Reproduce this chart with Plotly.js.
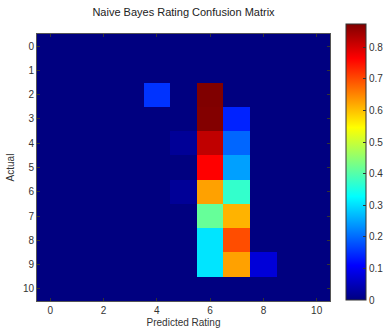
<!DOCTYPE html>
<html><head><meta charset="utf-8">
<script src="https://cdn.plot.ly/plotly-3.0.1.min.js"></script>
<style>body{margin:0;background:#fff}#c{width:386px;height:335px}</style>
</head><body><div id="c"></div>
<script>
const predicted = [0,1,2,3,4,5,6,7,8,9,10];
const actual = [0,1,2,3,4,5,6,7,8,9,10];
const xTicks = [0,2,4,6,8,10];
const yTicks = [0,1,2,3,4,5,6,7,8,9,10];
const cbTicks = [0,0.1,0.2,0.3,0.4,0.5,0.6,0.7,0.8];
const rates = [
  [0,0,0,0,0,0,0,0,0,0,0],
  [0,0,0,0,0,0,0,0,0,0,0],
  [0,0,0,0,0.153,0,0.873,0,0,0,0],
  [0,0,0,0,0,0,0.87,0.138,0,0,0],
  [0,0,0,0,0,0.02,0.818,0.196,0,0,0],
  [0,0,0,0,0,0,0.764,0.246,0,0,0],
  [0,0,0,0,0,0.02,0.626,0.371,0,0,0],
  [0,0,0,0,0,0,0.415,0.611,0,0,0],
  [0,0,0,0,0,0,0.305,0.698,0,0,0],
  [0,0,0,0,0,0,0.305,0.626,0.076,0,0],
  [0,0,0,0,0,0,0,0,0,0,0]
];
const jet = [[0,'rgb(0,0,128)'],[0.125,'rgb(0,0,255)'],[0.375,'rgb(0,255,255)'],[0.625,'rgb(255,255,0)'],[0.875,'rgb(255,0,0)'],[1,'rgb(128,0,0)']];
const font = {family:'Liberation Sans, Arial, sans-serif', size:10, color:'#333'};
Plotly.newPlot('c',[{
  type:'heatmap', x:predicted, y:actual, z:rates, zmin:0, zmax:0.873,
  colorscale:jet, zsmooth:false, hoverinfo:'none',
  colorbar:{x:1.0546, xanchor:'left', xref:'paper', thickness:20, thicknessmode:'pixels',
    len:276, lenmode:'pixels', y:0.52, yanchor:'middle', outlinewidth:1, outlinecolor:'#333',
    tickvals:cbTicks, ticktext:cbTicks.map(String), ticks:'inside', ticklen:3, tickcolor:'#333',
    tickfont:font, xpad:0, ypad:0, borderwidth:0}
}],{
  width:386, height:335, margin:{l:37,r:56,t:34,b:34,autoexpand:false},
  paper_bgcolor:'#fff', plot_bgcolor:'#fff', font:font,
  title:{text:'Naive Bayes Rating Confusion Matrix', font:{family:'Liberation Sans, Arial, sans-serif', size:11, color:'#222'}, x:0.5, xref:'paper', y:1, yref:'container', yanchor:'top', pad:{t:8}},
  xaxis:{range:[-0.5,10.5], tickvals:xTicks, ticks:'inside', ticklen:3, tickcolor:'#333', mirror:'ticks', showline:true, linecolor:'#555', linewidth:1, showgrid:false, zeroline:false,
    title:{text:'Predicted Rating', font:font, standoff:3}},
  yaxis:{range:[10.5,-0.5], tickvals:yTicks, ticks:'inside', ticklen:3, tickcolor:'#333', mirror:'ticks', showline:true, linecolor:'#555', linewidth:1, showgrid:false, zeroline:false,
    title:{text:'Actual', font:font, standoff:6}}
},{staticPlot:true});
</script></body></html>
